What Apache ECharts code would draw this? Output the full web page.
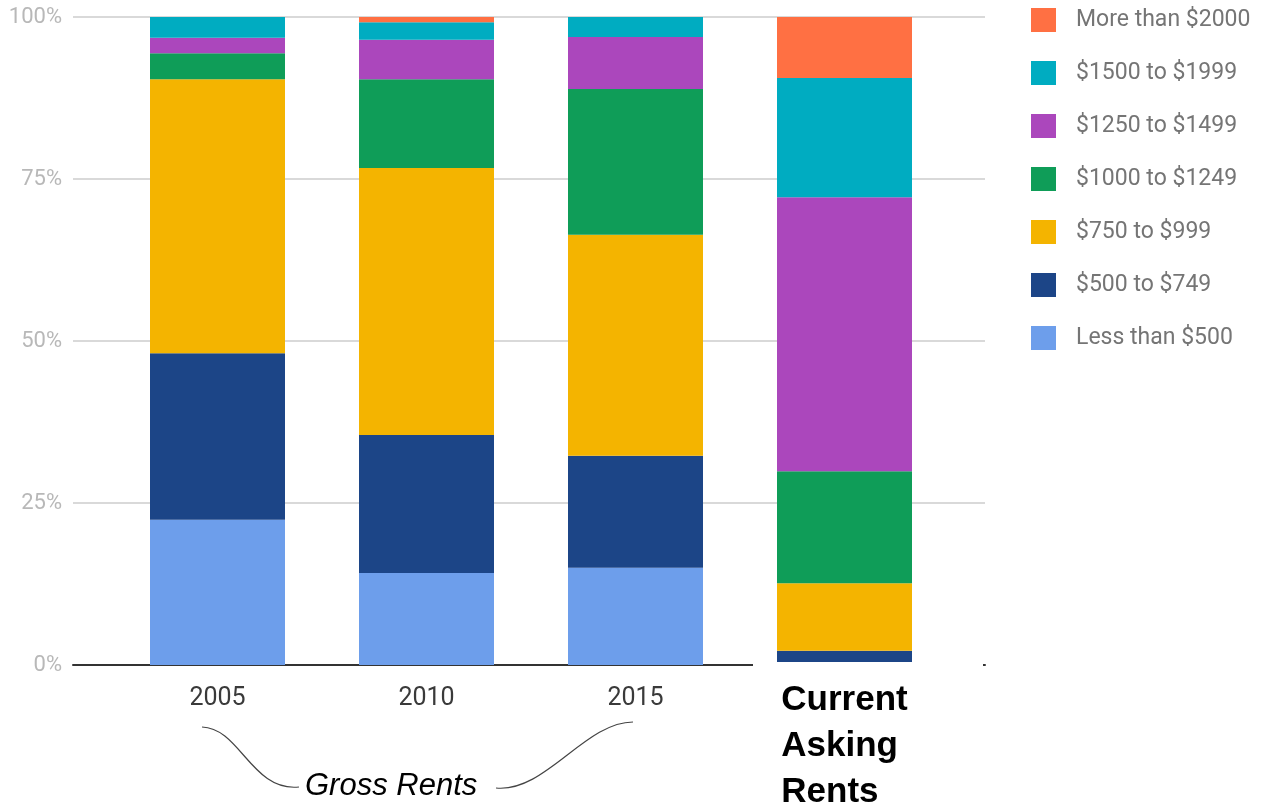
<!DOCTYPE html>
<html>
<head>
<meta charset="utf-8">
<title>Gross Rents vs Current Asking Rents</title>
<script src="https://cdn.jsdelivr.net/npm/echarts@6/dist/echarts.min.js"></script>
<style>
  html, body { margin: 0; padding: 0; background: #ffffff; }
  #chart { width: 1265px; height: 807px; }
</style>
</head>
<body>
<div id="chart"></div>
<script>
// Share of rental units by monthly rent band (percent of total)
const categories = ['2005', '2010', '2015', 'Current'];

const lessThan500  = [22.4, 14.2, 15.0, 0.0];
const from500      = [25.7, 21.3, 17.3, 2.2];
const from750      = [42.3, 41.2, 34.1, 10.4];
const from1000     = [4.0, 13.7, 22.5, 17.3];
const from1250     = [2.4, 6.1, 8.0, 42.3];
const from1500     = [3.2, 2.7, 3.1, 18.4];
const moreThan2000 = [0.0, 0.8, 0.0, 9.4];

const yTicks = ['0%', '25%', '50%', '75%', '100%'];

const bands = [
  { name: 'Less than $500',   data: lessThan500,  color: '#6d9eeb' },
  { name: '$500 to $749',     data: from500,      color: '#1c4587' },
  { name: '$750 to $999',     data: from750,      color: '#f4b400' },
  { name: '$1000 to $1249',   data: from1000,     color: '#0f9d58' },
  { name: '$1250 to $1499',   data: from1250,     color: '#ab47bc' },
  { name: '$1500 to $1999',   data: from1500,     color: '#00acc1' },
  { name: 'More than $2000',  data: moreThan2000, color: '#ff7043' }
];

const chart = echarts.init(document.getElementById('chart'), null, { renderer: 'canvas' });

const option = {
  animation: false,
  backgroundColor: '#ffffff',
  textStyle: { fontFamily: 'Roboto, "Liberation Sans", sans-serif' },
  grid: [
    // frame: gridlines and baseline
    { left: 73, right: 280, top: 17, bottom: 142, containLabel: false, outerBoundsMode: 'none' },
    // bars
    { left: 113, right: 316, top: 17, bottom: 142, containLabel: false, outerBoundsMode: 'none' }
  ],
  xAxis: [
    {
      gridIndex: 0, type: 'value', min: 0, max: 1, z: 0,
      axisLine: { show: true, lineStyle: { color: '#333333', width: 2 } },
      axisTick: { show: false }, axisLabel: { show: false }, splitLine: { show: false }
    },
    {
      gridIndex: 1, type: 'category', data: categories, z: 5,
      axisLine: { show: false }, axisTick: { show: false },
      axisLabel: {
        margin: 12,
        interval: 0,
        formatter: function (v) {
          if (v === 'Current') return '{b|Current}\n{b|Asking}\n{b|Rents}';
          return '{y|' + v + '}';
        },
        rich: {
          y: {
            fontFamily: 'Roboto, sans-serif',
            fontSize: 25, color: '#3a3a3a', lineHeight: 44
          },
          b: {
            fontFamily: '"Liberation Sans", Arial, sans-serif',
            fontWeight: 'bold', fontSize: 35, color: '#000000',
            lineHeight: 46, align: 'left'
          }
        }
      }
    }
  ],
  yAxis: [
    {
      gridIndex: 0, type: 'value', min: 0, max: 100, interval: 25,
      axisLine: { show: false }, axisTick: { show: false },
      axisLabel: {
        margin: 11, color: '#b8b8b8', fontSize: 22,
        formatter: function (v) { return yTicks[Math.round(v / 25)]; }
      },
      splitLine: { lineStyle: { color: '#d9d9d9', width: 2 } }
    },
    {
      gridIndex: 1, type: 'value', min: 0, max: 100, interval: 25,
      show: false
    }
  ],
  legend: {
    orient: 'vertical',
    left: 1031,
    top: 8,
    padding: 0,
    itemWidth: 25,
    itemHeight: 24,
    itemGap: 29,
    icon: 'rect',
    textStyle: { color: '#757575', fontSize: 23, padding: [0, 0, 0, 15] },
    data: bands.map(function (b) { return b.name; }).reverse()
  },
  series: bands.map(function (b) {
    return {
      name: b.name,
      type: 'bar',
      stack: 'rent',
      xAxisIndex: 1,
      yAxisIndex: 1,
      barWidth: 135,
      itemStyle: { color: b.color },
      data: b.data
    };
  }),
  graphic: [
    // blank strip beneath the asking-rent bar
    {
      type: 'rect', z: 3,
      shape: { x: 753, y: 662, width: 230, height: 145 },
      style: { fill: '#ffffff' }
    },
    // bracket curves around the "Gross Rents" caption
    {
      type: 'bezierCurve', z: 4,
      shape: { x1: 202, y1: 727, cpx1: 240, cpy1: 728, cpx2: 252, cpy2: 792, x2: 299, y2: 787 },
      style: { stroke: '#444444', lineWidth: 1.2, fill: null }
    },
    {
      type: 'bezierCurve', z: 4,
      shape: { x1: 496, y1: 788, cpx1: 545, cpy1: 793, cpx2: 585, cpy2: 722, x2: 633, y2: 722 },
      style: { stroke: '#444444', lineWidth: 1.2, fill: null }
    },
    {
      type: 'text', z: 4,
      left: 305, top: 771,
      style: {
        text: 'Gross Rents',
        font: 'italic 31px "Liberation Sans", Arial, sans-serif',
        fill: '#000000'
      }
    }
  ]
};

chart.setOption(option);
</script>
</body>
</html>
